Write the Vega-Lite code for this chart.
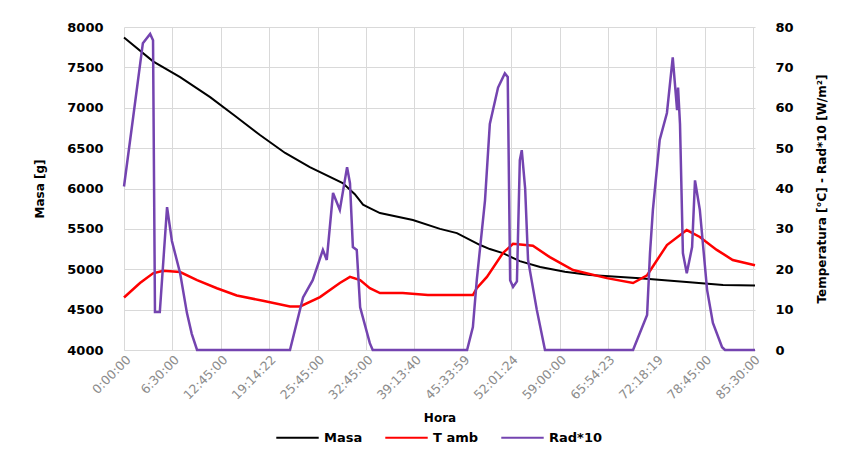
{
  "$schema": "https://vega.github.io/schema/vega-lite/v6.json",
  "width": 631,
  "height": 323,
  "autosize": {"type": "none"},
  "padding": {"left": 124, "top": 27, "right": 90, "bottom": 99},
  "background": "white",
  "config": {"view": {"stroke": null}, "font": "DejaVu Sans"},
  "data": {"values": [
    {"serie": "Masa", "n": 0, "v": 7870}, {"serie": "Masa", "n": 0.6, "v": 7575}, {"serie": "Masa", "n": 1.16, "v": 7380},
    {"serie": "Masa", "n": 1.78, "v": 7132}, {"serie": "Masa", "n": 2.29, "v": 6900}, {"serie": "Masa", "n": 2.81, "v": 6662},
    {"serie": "Masa", "n": 3.33, "v": 6440}, {"serie": "Masa", "n": 3.84, "v": 6265}, {"serie": "Masa", "n": 4.52, "v": 6067},
    {"serie": "Masa", "n": 4.77, "v": 5930}, {"serie": "Masa", "n": 4.94, "v": 5800}, {"serie": "Masa", "n": 5.08, "v": 5758},
    {"serie": "Masa", "n": 5.29, "v": 5696}, {"serie": "Masa", "n": 5.97, "v": 5610}, {"serie": "Masa", "n": 6.53, "v": 5500},
    {"serie": "Masa", "n": 6.88, "v": 5448}, {"serie": "Masa", "n": 7.36, "v": 5300}, {"serie": "Masa", "n": 7.56, "v": 5250},
    {"serie": "Masa", "n": 7.83, "v": 5200}, {"serie": "Masa", "n": 8.18, "v": 5100}, {"serie": "Masa", "n": 8.6, "v": 5028},
    {"serie": "Masa", "n": 9.11, "v": 4970}, {"serie": "Masa", "n": 9.63, "v": 4928}, {"serie": "Masa", "n": 10.66, "v": 4890},
    {"serie": "Masa", "n": 11.69, "v": 4840}, {"serie": "Masa", "n": 12.38, "v": 4805}, {"serie": "Masa", "n": 13.04, "v": 4800},

    {"serie": "T amb", "n": 0, "v": 13.0}, {"serie": "T amb", "n": 0.33, "v": 16.6}, {"serie": "T amb", "n": 0.6, "v": 19.0},
    {"serie": "T amb", "n": 0.81, "v": 19.6}, {"serie": "T amb", "n": 1.16, "v": 19.3}, {"serie": "T amb", "n": 1.51, "v": 17.3},
    {"serie": "T amb", "n": 1.92, "v": 15.3}, {"serie": "T amb", "n": 2.33, "v": 13.5}, {"serie": "T amb", "n": 2.87, "v": 12.2},
    {"serie": "T amb", "n": 3.43, "v": 10.8}, {"serie": "T amb", "n": 3.64, "v": 10.8}, {"serie": "T amb", "n": 4.05, "v": 13.1},
    {"serie": "T amb", "n": 4.46, "v": 16.6}, {"serie": "T amb", "n": 4.67, "v": 18.1}, {"serie": "T amb", "n": 4.88, "v": 17.3},
    {"serie": "T amb", "n": 5.08, "v": 15.3}, {"serie": "T amb", "n": 5.29, "v": 14.1}, {"serie": "T amb", "n": 5.76, "v": 14.1},
    {"serie": "T amb", "n": 6.28, "v": 13.6}, {"serie": "T amb", "n": 7.21, "v": 13.6}, {"serie": "T amb", "n": 7.29, "v": 15.3},
    {"serie": "T amb", "n": 7.5, "v": 18.1}, {"serie": "T amb", "n": 7.83, "v": 24.0}, {"serie": "T amb", "n": 8.04, "v": 26.3},
    {"serie": "T amb", "n": 8.45, "v": 25.8}, {"serie": "T amb", "n": 8.8, "v": 23.0}, {"serie": "T amb", "n": 9.28, "v": 19.8},
    {"serie": "T amb", "n": 9.98, "v": 17.8}, {"serie": "T amb", "n": 10.52, "v": 16.6}, {"serie": "T amb", "n": 10.81, "v": 18.5},
    {"serie": "T amb", "n": 11.22, "v": 26.0}, {"serie": "T amb", "n": 11.63, "v": 29.7}, {"serie": "T amb", "n": 11.9, "v": 28.0},
    {"serie": "T amb", "n": 12.25, "v": 24.8}, {"serie": "T amb", "n": 12.58, "v": 22.3}, {"serie": "T amb", "n": 13.04, "v": 21.0},

    {"serie": "Rad*10", "n": 0, "v": 40.5}, {"serie": "Rad*10", "n": 0.19, "v": 57.7}, {"serie": "Rad*10", "n": 0.39, "v": 76.0},
    {"serie": "Rad*10", "n": 0.54, "v": 78.3}, {"serie": "Rad*10", "n": 0.6, "v": 76.7}, {"serie": "Rad*10", "n": 0.64, "v": 9.4},
    {"serie": "Rad*10", "n": 0.74, "v": 9.4}, {"serie": "Rad*10", "n": 0.89, "v": 35.4}, {"serie": "Rad*10", "n": 0.99, "v": 27.0},
    {"serie": "Rad*10", "n": 1.16, "v": 19.0}, {"serie": "Rad*10", "n": 1.3, "v": 9.2}, {"serie": "Rad*10", "n": 1.4, "v": 4.0},
    {"serie": "Rad*10", "n": 1.51, "v": 0}, {"serie": "Rad*10", "n": 3.43, "v": 0}, {"serie": "Rad*10", "n": 3.7, "v": 13.0},
    {"serie": "Rad*10", "n": 3.9, "v": 17.3}, {"serie": "Rad*10", "n": 4.11, "v": 24.8}, {"serie": "Rad*10", "n": 4.19, "v": 22.3},
    {"serie": "Rad*10", "n": 4.32, "v": 38.9}, {"serie": "Rad*10", "n": 4.46, "v": 34.7}, {"serie": "Rad*10", "n": 4.61, "v": 45.3},
    {"serie": "Rad*10", "n": 4.67, "v": 41.3}, {"serie": "Rad*10", "n": 4.73, "v": 25.5}, {"serie": "Rad*10", "n": 4.81, "v": 24.8},
    {"serie": "Rad*10", "n": 4.88, "v": 10.6}, {"serie": "Rad*10", "n": 5.08, "v": 1.7}, {"serie": "Rad*10", "n": 5.14, "v": 0},
    {"serie": "Rad*10", "n": 7.09, "v": 0}, {"serie": "Rad*10", "n": 7.21, "v": 5.7}, {"serie": "Rad*10", "n": 7.29, "v": 17.3},
    {"serie": "Rad*10", "n": 7.46, "v": 37.0}, {"serie": "Rad*10", "n": 7.56, "v": 56.0}, {"serie": "Rad*10", "n": 7.73, "v": 65.0},
    {"serie": "Rad*10", "n": 7.87, "v": 68.5}, {"serie": "Rad*10", "n": 7.93, "v": 67.6}, {"serie": "Rad*10", "n": 7.98, "v": 17.3},
    {"serie": "Rad*10", "n": 8.04, "v": 15.6}, {"serie": "Rad*10", "n": 8.12, "v": 17.0}, {"serie": "Rad*10", "n": 8.18, "v": 47.0},
    {"serie": "Rad*10", "n": 8.22, "v": 49.5}, {"serie": "Rad*10", "n": 8.29, "v": 40.0}, {"serie": "Rad*10", "n": 8.35, "v": 22.3},
    {"serie": "Rad*10", "n": 8.53, "v": 10.0}, {"serie": "Rad*10", "n": 8.7, "v": 0}, {"serie": "Rad*10", "n": 10.52, "v": 0},
    {"serie": "Rad*10", "n": 10.81, "v": 8.7}, {"serie": "Rad*10", "n": 10.87, "v": 24.0}, {"serie": "Rad*10", "n": 10.93, "v": 34.7},
    {"serie": "Rad*10", "n": 11.07, "v": 52.0}, {"serie": "Rad*10", "n": 11.22, "v": 58.7}, {"serie": "Rad*10", "n": 11.34, "v": 72.5},
    {"serie": "Rad*10", "n": 11.43, "v": 59.4}, {"serie": "Rad*10", "n": 11.45, "v": 65.0}, {"serie": "Rad*10", "n": 11.49, "v": 56.0},
    {"serie": "Rad*10", "n": 11.55, "v": 24.0}, {"serie": "Rad*10", "n": 11.63, "v": 19.0}, {"serie": "Rad*10", "n": 11.74, "v": 25.5},
    {"serie": "Rad*10", "n": 11.8, "v": 42.0}, {"serie": "Rad*10", "n": 11.9, "v": 34.7}, {"serie": "Rad*10", "n": 12.05, "v": 14.9},
    {"serie": "Rad*10", "n": 12.17, "v": 6.7}, {"serie": "Rad*10", "n": 12.36, "v": 0.7}, {"serie": "Rad*10", "n": 12.42, "v": 0},
    {"serie": "Rad*10", "n": 13.04, "v": 0}
  ]},
  "layer": [
    {
      "transform": [{"filter": "datum.serie == 'Masa'"}],
      "mark": {"type": "line", "strokeWidth": 2},
      "encoding": {
        "x": {"field": "n", "type": "quantitative",
          "scale": {"domain": [0, 13.04], "nice": false, "zero": false},
          "axis": {"values": [0,1,2,3,4,5,6,7,8,9,10,11,12,13],
            "labelExpr": "['0:00:00','6:30:00','12:45:00','19:14:22','25:45:00','32:45:00','39:13:40','45:33:59','52:01:24','59:00:00','65:54:23','72:18:19','78:45:00','85:30:00'][datum.value]",
            "labelAngle": -45, "labelColor": "#8c8c8c", "labelFontSize": 12.5, "labelPadding": 3, "labelOverlap": false,
            "labelBound": false, "labelFlush": false,
            "ticks": false, "domain": true, "domainColor": "#d9d9d9", "grid": true, "gridColor": "#d9d9d9",
            "title": "Hora", "titleFontSize": 12, "titleFontWeight": "bold", "titleColor": "#000000", "titlePadding": 11}},
        "y": {"field": "v", "type": "quantitative",
          "scale": {"domain": [4000, 8000], "nice": false, "zero": false},
          "axis": {"orient": "left", "values": [4000,4500,5000,5500,6000,6500,7000,7500,8000], "format": "d",
            "labelFontSize": 13, "labelFontWeight": "bold", "labelColor": "#000000", "labelPadding": 21,
            "ticks": false, "domain": false, "grid": true, "gridColor": "#d9d9d9",
            "title": "Masa [g]", "titleFontSize": 12, "titleFontWeight": "bold", "titleColor": "#000000", "titlePadding": 20}},
        "color": {"field": "serie", "type": "nominal",
          "scale": {"domain": ["Masa", "T amb", "Rad*10"], "range": ["#000000", "#ff0000", "#7444b0"]},
          "legend": {"orient": "none", "legendX": 151, "legendY": 388, "direction": "horizontal", "title": null, "symbolType": "stroke",
            "symbolSize": 1800, "symbolStrokeWidth": 2, "labelFontSize": 13, "labelFontWeight": "bold",
            "labelColor": "#000000", "labelOffset": 4, "columnPadding": 18}}
      }
    },
    {
      "transform": [{"filter": "datum.serie == 'T amb'"}],
      "mark": {"type": "line", "strokeWidth": 2.5},
      "encoding": {
        "x": {"field": "n", "type": "quantitative", "scale": {"domain": [0, 13.04], "nice": false, "zero": false}},
        "y": {"field": "v", "type": "quantitative",
          "scale": {"domain": [0, 80], "nice": false},
          "axis": {"orient": "right", "values": [0,10,20,30,40,50,60,70,80],
            "labelFontSize": 13, "labelFontWeight": "bold", "labelColor": "#000000", "labelPadding": 20,
            "ticks": false, "domain": false, "grid": false,
            "title": "Temperatura [°C] - Rad*10 [W/m²]", "titleAngle": 270, "titleFontSize": 12, "titleFontWeight": "bold",
            "titleColor": "#000000", "titlePadding": 35}},
        "color": {"field": "serie", "type": "nominal"}
      }
    },
    {
      "transform": [{"filter": "datum.serie == 'Rad*10'"}],
      "mark": {"type": "line", "strokeWidth": 2.5},
      "encoding": {
        "x": {"field": "n", "type": "quantitative", "scale": {"domain": [0, 13.04], "nice": false, "zero": false}},
        "y": {"field": "v", "type": "quantitative", "scale": {"domain": [0, 80], "nice": false}, "axis": null},
        "color": {"field": "serie", "type": "nominal"}
      }
    }
  ],
  "resolve": {"scale": {"y": "independent"}}
}
